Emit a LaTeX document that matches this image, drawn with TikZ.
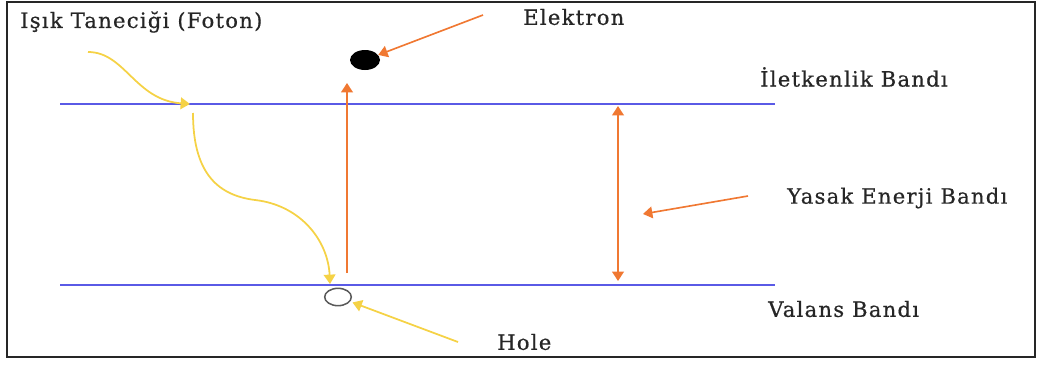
\documentclass[tikz,border=0pt]{standalone}
\usepackage{fontspec}
\setmainfont{DejaVu Serif}
\usetikzlibrary{arrows.meta,shapes.geometric}
\definecolor{bandblue}{RGB}{90,90,230}
\definecolor{gaporange}{RGB}{240,120,50}
\definecolor{photonyellow}{RGB}{245,210,70}

\begin{document}
\begin{tikzpicture}[x=0.03cm, y=-0.03cm, >={Triangle[length=8pt,width=10pt]},
  band/.style={draw=bandblue, line width=1.5pt},
  gap/.style={draw=gaporange, line width=1.4pt},
  photon/.style={draw=photonyellow, line width=1.5pt},
  lbl/.style={anchor=west, inner sep=0pt, text=black!85,
    font=\fontsize{18}{21}\selectfont\addfontfeatures{LetterSpace=6,FakeBold=0.6}}]
  \useasboundingbox (0,0) rectangle (1037,365);
  \draw[line width=1.5pt, black!85] (7,2) rectangle (1035,357);

  % bands
  \coordinate (cb-l) at (60,104);  \coordinate (cb-r) at (775,104);
  \coordinate (vb-l) at (60,285);  \coordinate (vb-r) at (775,285);
  \draw[band] (cb-l) -- (cb-r);
  \draw[band] (vb-l) -- (vb-r);

  % labels
  \node[lbl] (foton) at (20,22) {Işık Taneciği (Foton)};
  \node[lbl] (elektron) at (523,17) {Elektron};
  \node[lbl] (iletken) at (760,77) {İletkenlik Bandı};
  \node[lbl] (yasak) at (787,198) {Yasak Enerji Bandı};
  \node[lbl] (valans) at (768,309) {Valans Bandı};
  \node[lbl] (hole) at (497,342) {Hole};

  % particles
  \node[ellipse, fill=black, minimum width=0.9cm, minimum height=0.6cm, inner sep=0pt] (electron) at (365,60) {};
  \node[ellipse, draw=black!65, line width=1.3pt, minimum width=0.8cm, minimum height=0.52cm, inner sep=0pt] (hol) at (338,297) {};

  % excitation and gap
  \coordinate (ex-bot) at (347,273); \coordinate (ex-top) at (347,83);
  \coordinate (gap-top) at (618,106); \coordinate (gap-bot) at (618,281);
  \draw[gap,->] (ex-bot) -- (ex-top);
  \draw[gap,<->] (gap-top) -- (gap-bot);

  % pointers
  \coordinate (elk-tail) at (483,15);
  \coordinate (yas-tail) at (748,196); \coordinate (yas-tip) at (643,214);
  \coordinate (hol-tail) at (458,342);
  \draw[gap,->] (elk-tail) -- (electron);
  \draw[gap,->] (yas-tail) -- (yas-tip);
  \draw[photon,->,shorten >=2pt] (hol-tail) -- (hol);

  % photon path
  \coordinate (ph-start) at (88,52); \coordinate (ph-in) at (190,104);
  \coordinate (ph-out) at (193,113); \coordinate (ph-end) at (330,284);
  \draw[photon,->] (ph-start) .. controls (125,52) and (135,100) .. (ph-in);
  \draw[photon,->] (ph-out) .. controls (193,170) and (215,195) .. (255,200)
    .. controls (300,205) and (328,240) .. (ph-end);
\end{tikzpicture}
\end{document}
